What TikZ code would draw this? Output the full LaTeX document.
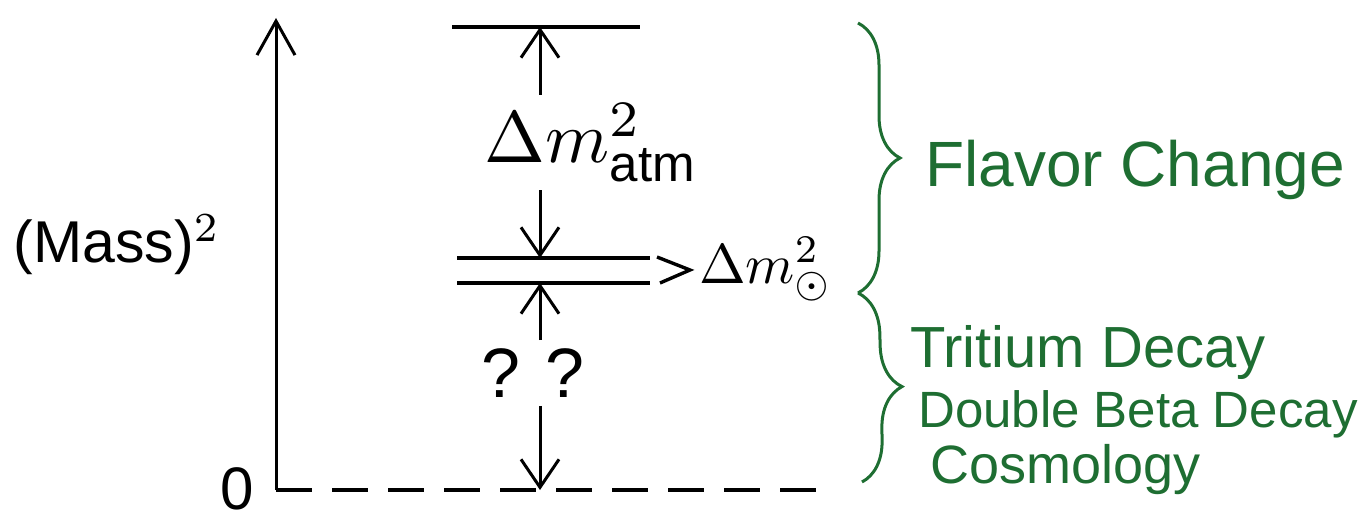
\documentclass[tikz,border=0pt]{standalone}
\usepackage{fontspec}
\setmainfont{Liberation Sans}
\usetikzlibrary{arrows.meta,decorations.pathreplacing}
\definecolor{inkgreen}{RGB}{30,110,50}

\begin{document}
\begin{tikzpicture}[x=1pt,y=1pt,
  level/.style={line width=3.4pt},
  dimarrow/.style={line width=3pt,-{Straight Barb[length=28pt,width=38pt]}},
  greenbrace/.style={draw=inkgreen,line width=3pt,decorate,decoration={brace,amplitude=42pt}},
  greentext/.style={text=inkgreen,anchor=base west,inner sep=0pt}]
\useasboundingbox (0,0) rectangle (1370,523);
% axis and zero line
\coordinate (origin) at (276,33);
\coordinate (axistop) at (276,505);
\coordinate (baseend) at (816,33);
\draw[line width=3pt,-{Straight Barb[length=34pt,width=38pt]}] (origin) -- (axistop);
\draw[line width=3.2pt,dash pattern=on 36pt off 20pt] (origin) -- (baseend);
\node[scale=6,inner sep=0pt,anchor=base] (zero) at (237,14) {0};
\node[scale=5.9] (mass) at (117,278) {(Mass)$^2$};
% levels
\coordinate (top) at (540,496);
\coordinate (upper) at (540,265);
\coordinate (lower) at (540,240);
\coordinate (floor) at (540,33);
\draw[level] (452,496) -- (640,496);
\draw[level] (457,265) -- (650,265);
\draw[level] (457,240) -- (650,240);
% splittings
\node[scale=7.3,inner sep=1pt,anchor=base west] (atm) at (476,360) {$\Delta m^2_{\mathrm{atm}}$};
\draw[dimarrow] (atm.north -| top) -- (top);
\draw[dimarrow] (atm.south -| upper) -- (upper);
\node[scale=7,inner sep=1pt] (qq) at (533,150) {? ?};
\draw[dimarrow] (qq.north -| lower) -- (lower);
\draw[dimarrow] (qq.south -| floor) -- (floor);
\coordinate (pointer) at (690,253);
\draw[level] (657,266) -- (pointer) -- (660,240);
\node[scale=5.6,inner sep=0pt,anchor=base west] (sun) at (698,240) {$\Delta m^2_{\odot}$};
% what measures what
\draw[greenbrace] (858,500) -- (858,230);
\draw[greenbrace] (858,230) -- (862,41);
\node[greentext,font=\fontsize{64}{70}\selectfont] (flavor) at (925,336) {Flavor Change};
\node[greentext,font=\fontsize{58}{64}\selectfont] (tritium) at (910,156) {Tritium Decay};
\node[greentext,font=\fontsize{51}{60}\selectfont] (dbeta) at (918,96) {Double Beta Decay};
\node[greentext,font=\fontsize{54}{60}\selectfont] (cosmo) at (930,40) {Cosmology};
\end{tikzpicture}
\end{document}
